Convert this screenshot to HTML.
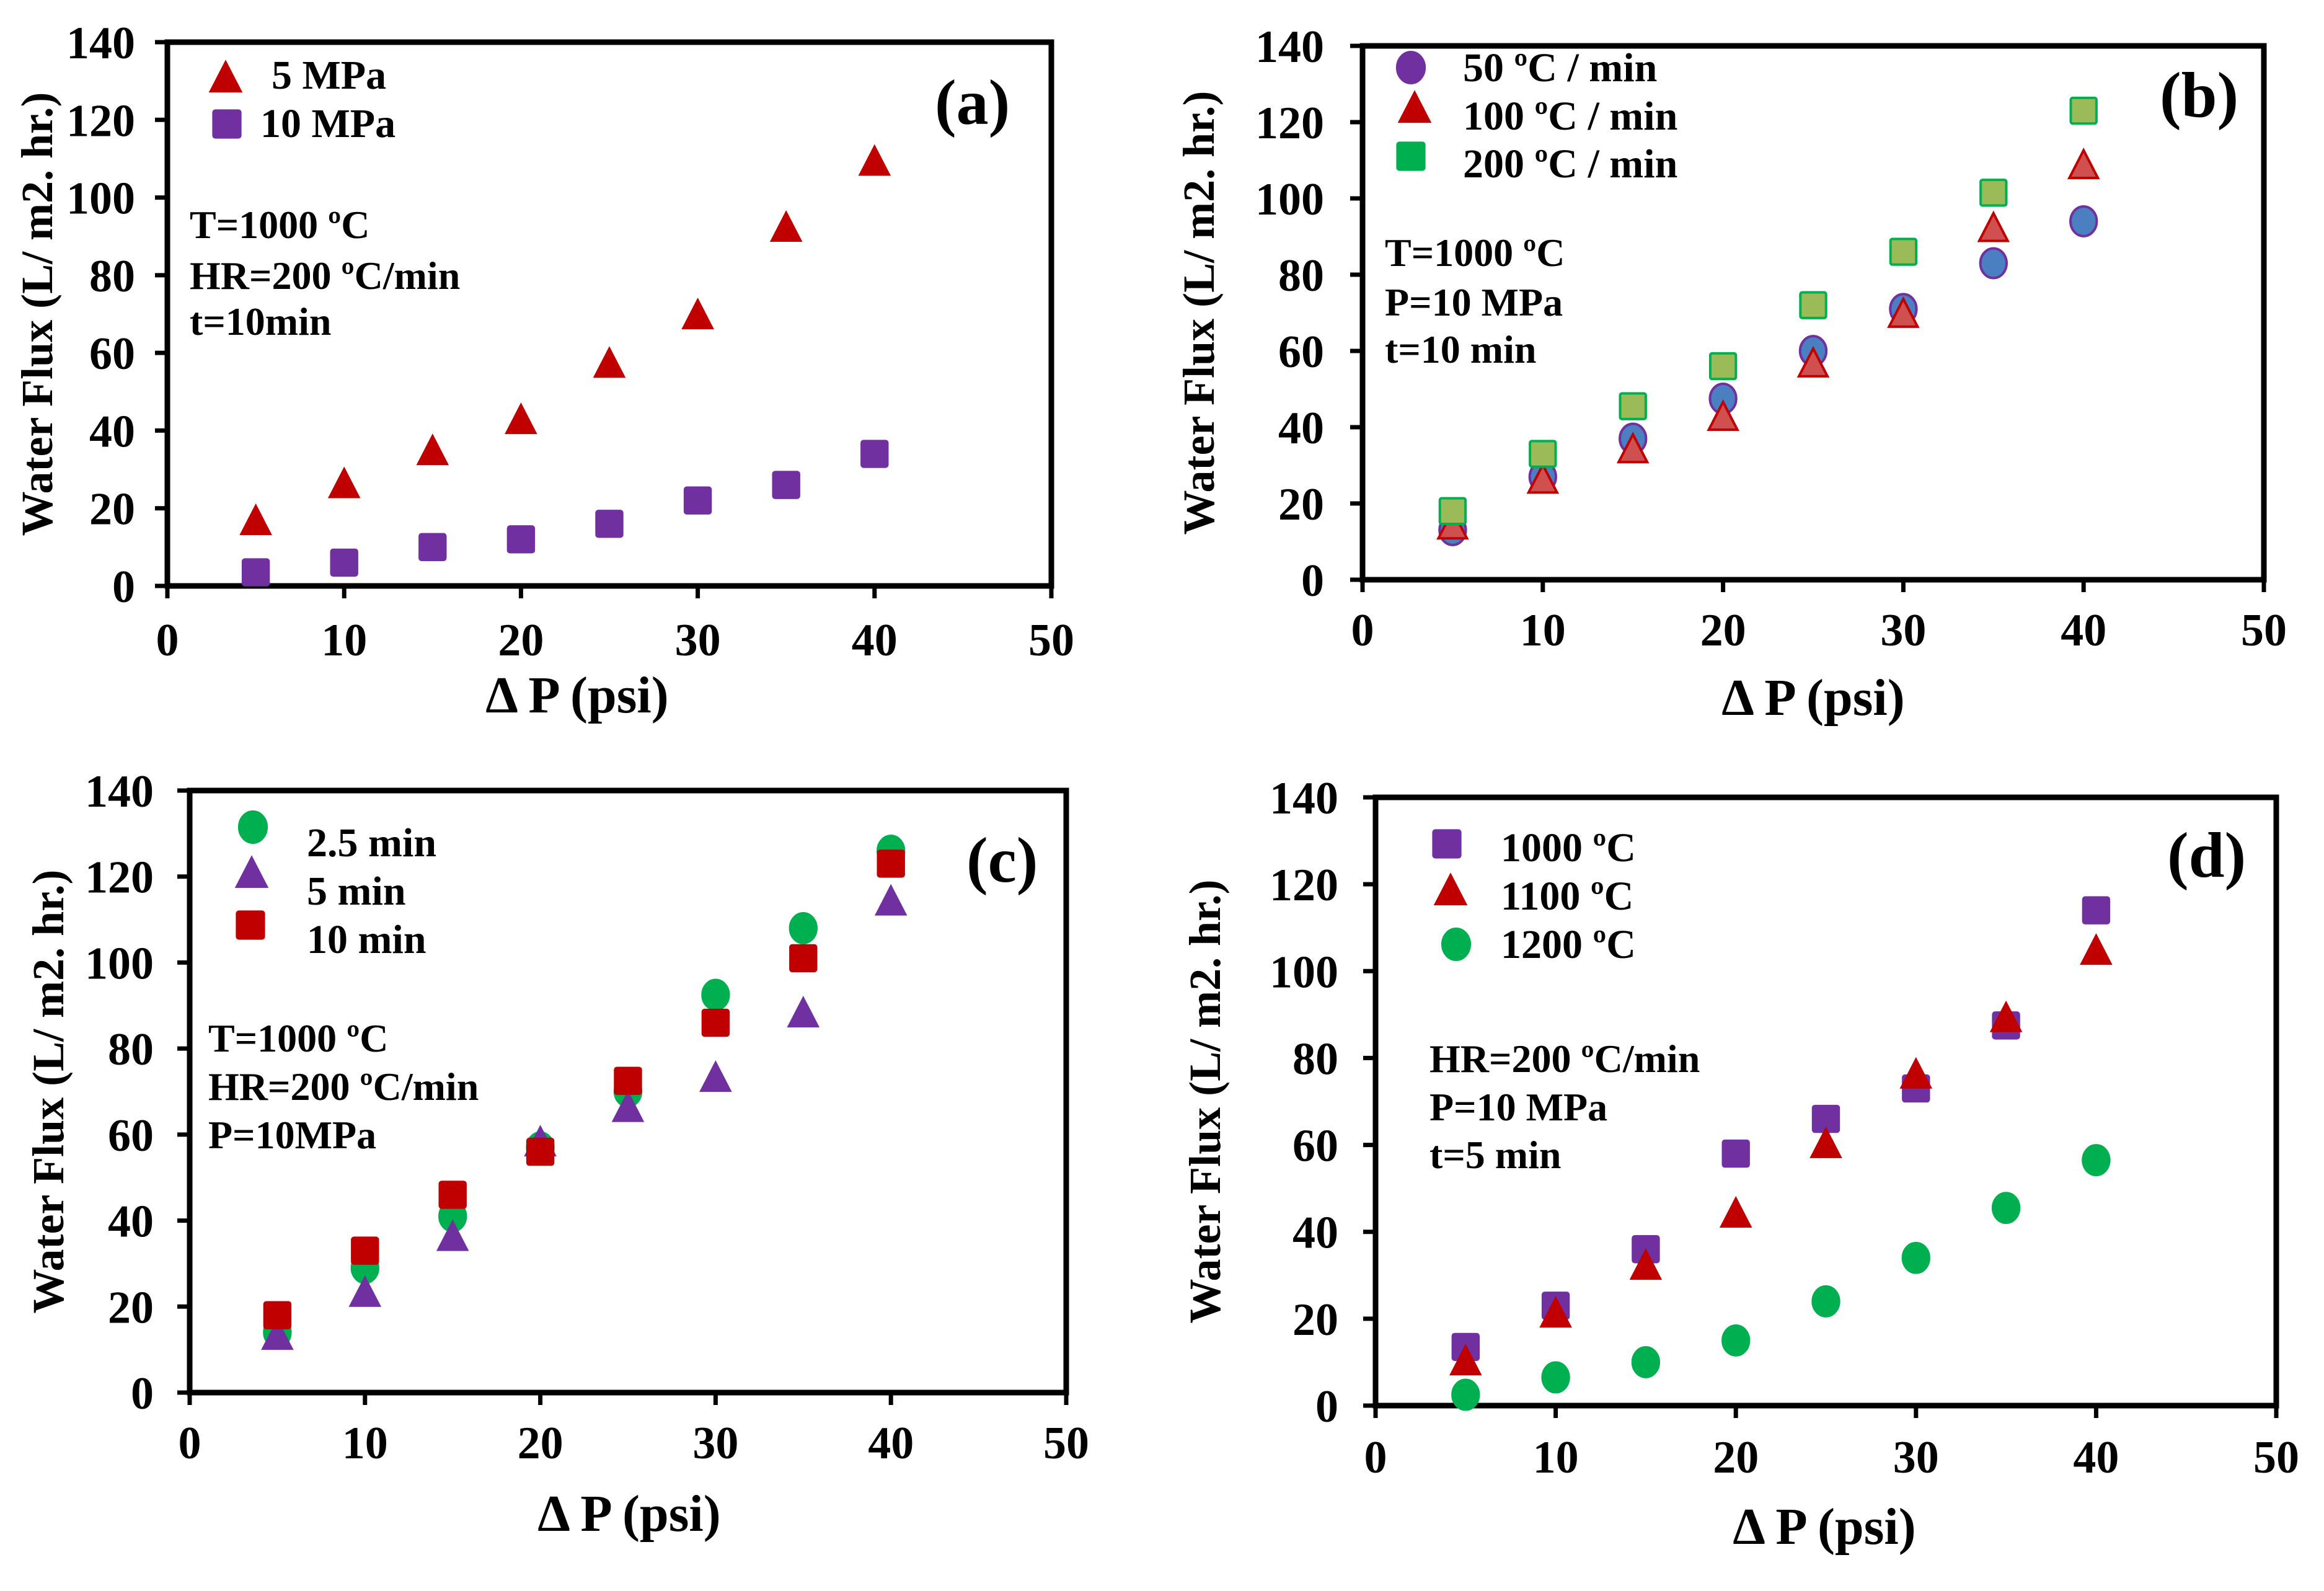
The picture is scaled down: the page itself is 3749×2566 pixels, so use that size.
<!DOCTYPE html>
<html><head><meta charset="utf-8">
<style>
html,body{margin:0;padding:0;background:#fff;}
svg{display:block;}
text{font-family:"Liberation Serif","Times New Roman",serif;font-weight:bold;fill:#000;}
</style></head>
<body>
<svg id="fig" width="3749" height="2566" viewBox="0 0 3749 2566" xmlns="http://www.w3.org/2000/svg"></svg>
<script>
const xCats = [5,10,15,20,25,30,35,40];
const xTicks = [0,10,20,30,40,50];
const yTicks = [0,20,40,60,80,100,120,140];
// panel a
const a5MPa = [16.5,26,34.5,42.5,57,69.5,92,109];
const a10MPa = [3.5,6,10,12,16,22,26,34];
// panel b
const b50 = [13,27,37,47.5,60,71,83,94];
const b100 = [14,26,34,42.5,56.5,69.5,92,108.5];
const b200 = [18,33,45.5,56,72,86,101.5,123];
// panel c
const c25 = [14,29,41,57,70,92.5,108,126];
const c5 = [13,23,36,58,66,73,88,114];
const c10 = [18,33,46,56,72.5,86,101,123];
// panel d
const d1000 = [13.5,23,36,58,66,73,87.5,114];
const d1100 = [10,21,32,44,60,76,89,104.5];
const d1200 = [2.5,6.5,10,15,24,34,45.5,56.5];

const NS="http://www.w3.org/2000/svg";
const svg=document.getElementById('fig');
function mk(tag,attrs,parent){const e=document.createElementNS(NS,tag);for(const k in attrs)e.setAttribute(k,attrs[k]);(parent||svg).appendChild(e);return e;}

const RED={fill:'#c00000',stroke:'#c00000'}, PUR={fill:'#7030a0',stroke:'#7030a0'}, GRN={fill:'#00b050',stroke:'#00b050'};
const CIRB={fill:'#4a7fc1',stroke:'#7030a0'}, SQB={fill:'#9bbb59',stroke:'#00b050'}, TRB={fill:'#d05050',stroke:'#c00000'};

function marker(g,shape,cx,cy,st,s){
  let e;
  if(shape==='tri'){e=mk('polygon',{points:`${cx},${cy-s*0.55} ${cx+s*0.5},${cy+s*0.42} ${cx-s*0.5},${cy+s*0.42}`},g);}
  else if(shape==='sq'){e=mk('rect',{x:cx-s*0.45,y:cy-s*0.45,width:s*0.9,height:s*0.9,rx:3},g);}
  else {e=mk('ellipse',{cx:cx,cy:cy,rx:s*0.46,ry:s*0.52},g);}
  e.setAttribute('fill',st.fill);e.setAttribute('stroke',st.stroke);e.setAttribute('stroke-width',4);
  return e;
}

function panel(p){
  const g=mk('g',{});
  
  
  const X=v=>p.L+(v-0)/50*(p.R-p.L);
  const Y=v=>p.B-(v-0)/140*(p.B-p.T);
  xTicks.forEach(t=>{
    const l=mk('line',{x1:X(t),x2:X(t),y1:p.B,y2:p.B+20,stroke:'#000','stroke-width':7},g);
    
    const tx=mk('text',{x:X(t),y:p.B+p.xlOff,'text-anchor':'middle','font-size':74},g);
    tx.textContent=t;
    
  });
  yTicks.forEach(t=>{
    const l=mk('line',{x1:p.L-20,x2:p.L,y1:Y(t),y2:Y(t),stroke:'#000','stroke-width':7},g);
    
    const tx=mk('text',{x:p.L+p.ylOff,y:Y(t)+26,'text-anchor':'end','font-size':74},g);
    tx.textContent=t;
    
  });
  const fr=mk('rect',{x:p.L,y:p.T,width:p.R-p.L,height:p.B-p.T,fill:'none',stroke:'#000','stroke-width':9},g);
  
  const yt=mk('text',{x:0,y:0,'text-anchor':'middle','font-size':72,transform:`translate(${p.L+p.ytOff},${(p.T+p.B)/2}) rotate(-90)`},g);
  yt.textContent='Water  Flux (L/ m2. hr.)';
  
  const xt=mk('text',{x:p.xtX,y:p.xtY,'text-anchor':'middle','font-size':84},g);
  xt.textContent='\u0394 P (psi)';
  
  const pl=mk('text',{x:p.plX,y:p.plY,'font-size':104},g);
  pl.textContent='('+p.id+')';
  
  p.notes.forEach((n,i)=>{
    const t=mk('text',{x:p.nX,y:p.nY[i],'font-size':64},g);
    t.textContent=n;
    
  });
  p.series.forEach(s=>{
    const sg=mk('g',{},g);
    
    s.data.forEach((v,i)=>{
      const m=marker(sg,s.shape,X(xCats[i]),Y(v),s.st,46);
      
      
    });
    const lg=mk('g',{},g);
    
    marker(lg,s.shape,s.lx,s.ly,s.lst||s.st,48);
    const lt=mk('text',{x:s.tx,y:s.ty,'font-size':66,'xml:space':'preserve'},lg);
    lt.textContent=s.label;
  });
}

panel({id:'a',L:270,R:1696,T:68,B:945,xlOff:112,ylOff:-52,ytOff:-186,xtX:931,xtY:1149,plX:1508,plY:200,
  nX:306,nY:[384,466,540],notes:['T=1000 \u00baC','HR=200 \u00baC/min','t=10min'],
  series:[
   {name:'5-mpa',data:a5MPa,shape:'tri',st:RED,lx:364,ly:127,tx:438,ty:143,label:'5   MPa'},
   {name:'10-mpa',data:a10MPa,shape:'sq',st:PUR,lx:366,ly:200,tx:420,ty:221,label:'10   MPa'}]});

panel({id:'b',L:2198,R:3652,T:74,B:935,xlOff:106,ylOff:-62,ytOff:-240,xtX:2925,xtY:1153,plX:3484,plY:188,
  nX:2234,nY:[429,509,585],notes:['T=1000 \u00baC','P=10 MPa','t=10 min'],
  series:[
   {name:'50-c-per-min',data:b50,shape:'circ',st:CIRB,lst:PUR,lx:2276,ly:109,tx:2360,ty:131,label:'50 \u00baC / min'},
   {name:'100-c-per-min',data:b100,shape:'tri',st:TRB,lst:RED,lx:2282,ly:176,tx:2360,ty:209,label:'100 \u00baC / min'},
   {name:'200-c-per-min',data:b200,shape:'sq',st:SQB,lst:GRN,lx:2276,ly:252,tx:2360,ty:286,label:'200 \u00baC / min'}]});

panel({id:'c',L:306,R:1720,T:1275,B:2246,xlOff:106,ylOff:-58,ytOff:-204,xtX:1015,xtY:2469,plX:1559,plY:1422,
  nX:336,nY:[1696,1774,1852],notes:['T=1000 \u00baC','HR=200 \u00baC/min','P=10MPa'],
  series:[
   {name:'2-5-min',data:c25,shape:'circ',st:GRN,lx:408,ly:1334,tx:495,ty:1381,label:'2.5 min'},
   {name:'5-min',data:c5,shape:'tri',st:PUR,lx:406,ly:1410,tx:495,ty:1459,label:'5    min'},
   {name:'10-min',data:c10,shape:'sq',st:RED,lx:404,ly:1492,tx:495,ty:1537,label:'10  min'}]});

panel({id:'d',L:2219,R:3672,T:1286,B:2267,xlOff:108,ylOff:-60,ytOff:-251,xtX:2943,xtY:2490,plX:3496,plY:1414,
  nX:2306,nY:[1729,1807,1884],notes:['HR=200 \u00baC/min','P=10 MPa','t=5 min'],
  series:[
   {name:'1000-c',data:d1000,shape:'sq',st:PUR,lx:2334,ly:1361,tx:2421,ty:1389,label:'1000  \u00baC'},
   {name:'1100-c',data:d1100,shape:'tri',st:RED,lx:2340,ly:1438,tx:2421,ty:1467,label:'1100  \u00baC'},
   {name:'1200-c',data:d1200,shape:'circ',st:GRN,lx:2349,ly:1523,tx:2421,ty:1545,label:'1200  \u00baC'}]});
</script>
</body></html>
